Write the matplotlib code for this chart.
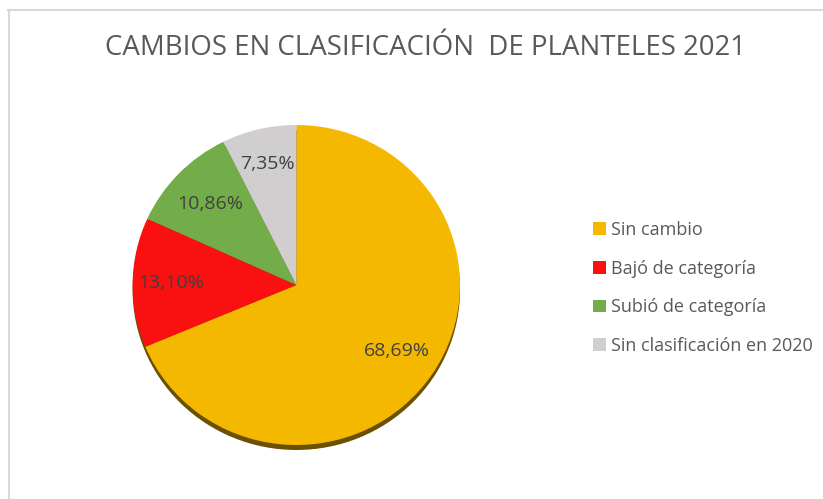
import matplotlib
matplotlib.use("Agg")
import matplotlib.pyplot as plt
from matplotlib.lines import Line2D
from matplotlib.patches import Circle
import numpy as np

categories = ["Sin cambio", "Bajó de categoría", "Subió de categoría", "Sin clasificación en 2020"]
values = [68.69, 13.10, 10.86, 7.35]
labels_pct = ["68,69%", "13,10%", "10,86%", "7,35%"]
colors = ["#F5B800", "#FA1010", "#72AD4A", "#D0CECE"]
title = "CAMBIOS EN CLASIFICACIÓN  DE PLANTELES 2021"

W, H = 823, 499
fig = plt.figure(figsize=(W / 100, H / 100), dpi=100)
plt.rcParams['font.family'] = ['Open Sans', 'DejaVu Sans']

ax = fig.add_axes([0, 0, 1, 1])
r = 163.7
ys = 160.0 / 163.7  # slight vertical squash of the pie
YL = H / ys
cx, cy = 296.3, (H - 285) / ys

def place(ax):
    ax.set_xlim(0, W)
    ax.set_ylim(0, YL)
    ax.set_aspect('auto')
    ax.axis('off')

# shadow under the pie
ax.add_patch(Circle((cx, cy - 5 / ys), r, facecolor="#6A5000", edgecolor="none", zorder=1))

wedges, _ = ax.pie(values, colors=colors, startangle=90, counterclock=False,
                   center=(cx, cy), radius=r, frame=True,
                   wedgeprops=dict(linewidth=0, zorder=2))
place(ax)

dists = [0.74, 0.765, 0.73, 0.78]
start = 90.0
for v, lab, d in zip(values, labels_pct, dists):
    mid = np.deg2rad(start - v * 3.6 / 2)
    start -= v * 3.6
    ax.text(cx + d * r * np.cos(mid), cy + d * r * np.sin(mid), lab,
            ha='center', va='center', fontsize=14, color="#404040", zorder=5)

fig.text(425 / W, 1 - 48 / H, title, ha='center', va='center',
         fontsize=19.9, color="#595959")

leg = fig.legend(wedges, categories, loc='center left',
                 bbox_to_anchor=(577 / W, 1 - 288 / H), frameon=False,
                 fontsize=13, labelcolor="#595959", handlelength=0.7,
                 handleheight=0.7, handletextpad=0.3, labelspacing=1.14)

# chart border (partial, as in the reference crop)
fig.add_artist(Line2D([8.5 / W, 8.5 / W], [0, 1 - 10 / H], transform=fig.transFigure,
                      color="#D9D9D9", lw=1.5))
fig.add_artist(Line2D([8 / W, 1], [1 - 10 / H, 1 - 10 / H], transform=fig.transFigure,
                      color="#D9D9D9", lw=1.5))

fig.savefig("out.png", dpi=100, facecolor="white")
